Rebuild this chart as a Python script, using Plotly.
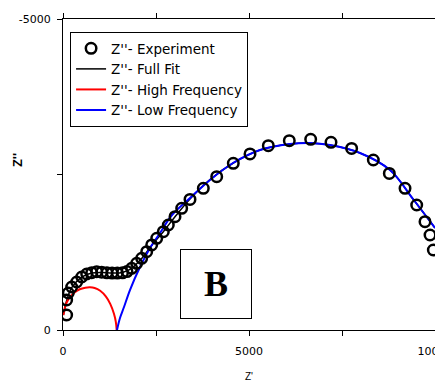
import plotly.graph_objects as go

# Experimental data: Z' (ohm) and Z'' (ohm, negative)
exp_zre = [98, 98, 143, 233, 368, 503, 637, 772, 906, 1040, 1180, 1320, 1460, 1600, 1720,
           1846, 1980, 2115, 2250, 2384, 2519, 2697, 2831, 3011, 3190, 3414,
           3772, 4132, 4578, 5027, 5519, 6083, 6658, 7204, 7759, 8342, 8772, 9194,
           9508, 9731, 9866, 9955]
exp_zim = [-241, -482, -595, -691, -772, -852, -900, -921, -938, -930, -920, -915, -915, -920, -940,
           -991, -1072, -1152, -1259, -1367, -1474, -1581, -1688, -1822, -1956, -2100,
           -2278, -2465, -2680, -2830, -2963, -3044, -3066, -3018, -2920, -2733, -2518, -2278,
           -2010, -1741, -1527, -1286]

# Full fit
fit_zre = [10, 98, 233, 503, 772, 1040, 1320, 1600, 1846, 2115, 2384, 2697, 3011, 3414,
           3952, 4578, 5296, 6102, 6640, 7177, 7984, 8790, 9409, 10000]
fit_zim = [-240, -470, -680, -850, -915, -925, -915, -925, -990, -1150, -1360, -1580, -1820, -2105,
           -2420, -2685, -2894, -2990, -3007, -2974, -2846, -2572, -2106, -1640]

# High frequency arc
hf_zre = [10, 60, 150, 300, 450, 600, 726, 850, 1000, 1150, 1270, 1370, 1420, 1443]
hf_zim = [-240, -380, -500, -600, -655, -680, -686, -675, -630, -540, -420, -260, -130, 0]

# Low frequency arc
lf_zre = [1452, 1532, 1640, 1800, 2070, 2339, 2608, 2930, 3414, 3952, 4570, 5296, 6102,
          6640, 7177, 7984, 8790, 9409, 10000]
lf_zim = [0, -193, -370, -643, -1013, -1318, -1560, -1849, -2122, -2412, -2685, -2894, -2990,
          -3007, -2974, -2846, -2572, -2106, -1640]

fig = go.Figure()
fig.add_trace(go.Scatter(x=fit_zre, y=fit_zim, mode='lines', name="Z''- Full Fit", legendrank=2,
                         line=dict(color='black', width=1.5, shape='spline')))
fig.add_trace(go.Scatter(x=hf_zre, y=hf_zim, mode='lines', name="Z''- High Frequency", legendrank=3,
                         line=dict(color='#ff0000', width=2, shape='spline')))
fig.add_trace(go.Scatter(x=lf_zre, y=lf_zim, mode='lines', name="Z''- Low Frequency", legendrank=4,
                         line=dict(color='#0000ff', width=2, shape='spline')))
fig.add_trace(go.Scatter(x=exp_zre, y=exp_zim, mode='markers', name="Z''- Experiment", legendrank=1,
                         marker=dict(symbol='circle-open', size=10.5, color='black',
                                     line=dict(width=2.5, color='black'))))

fig.update_layout(
    width=435, height=386,
    margin=dict(l=63, r=0, t=19, b=56, autoexpand=False),
    paper_bgcolor='white', plot_bgcolor='white',
    font=dict(family='Liberation Sans, Arial, sans-serif', size=11, color='black'),
    showlegend=True,
    legend=dict(x=0.019, y=0.958, xanchor='left', yanchor='top',
                bordercolor='black', borderwidth=1, bgcolor='white',
                font=dict(family='DejaVu Sans, sans-serif', size=13.5),
                traceorder='normal', itemwidth=30, tracegroupgap=0),
    xaxis=dict(range=[0, 10000], tickvals=[0, 5000, 10000], ticktext=['0', '5000', '10000'],
               automargin=False, ticklabelstandoff=6, ticklabeloverflow='allow',
               ticks='outside', ticklen=5, tickcolor='black', showgrid=False, zeroline=False,
               showline=True, linecolor='black', linewidth=1, mirror='allticks',
               minor=dict(dtick=2500, tick0=0, ticks='outside', ticklen=5, tickcolor='black', showgrid=False),
               tickfont=dict(family='DejaVu Sans, sans-serif', size=11)),
    yaxis=dict(range=[0, -5000], tickvals=[0, -5000], ticktext=['0', '-5000'],
               automargin=False, ticklabelstandoff=4,
               ticks='outside', ticklen=5, tickcolor='black', showgrid=False, zeroline=False,
               showline=True, linecolor='black', linewidth=1,
               minor=dict(dtick=2500, tick0=0, ticks='outside', ticklen=5, tickcolor='black', showgrid=False),
               tickfont=dict(family='DejaVu Sans, sans-serif', size=11)),
)

fig.add_annotation(x=5000, y=-0.151, xref='x', yref='paper', yanchor='middle', xanchor='center',
                   text="Z'", showarrow=False, font=dict(size=10))
fig.add_annotation(x=-0.122, y=0.545, xref='paper', yref='paper', text="<b>Z''</b>", textangle=-90,
                   xanchor='center', yanchor='middle',
                   showarrow=False, font=dict(size=13))
fig.add_annotation(x=4126, y=-740, xref='x', yref='y', text='<b>B</b>', showarrow=False,
                   font=dict(family='Liberation Serif, Times New Roman, serif', size=36, color='black'),
                   width=68, height=66, bordercolor='black', borderwidth=1, borderpad=1,
                   bgcolor='white')

fig.write_html('out.html', config={'displayModeBar': False},
               post_script="document.body.style.margin='0px';document.body.style.overflow='hidden';")
